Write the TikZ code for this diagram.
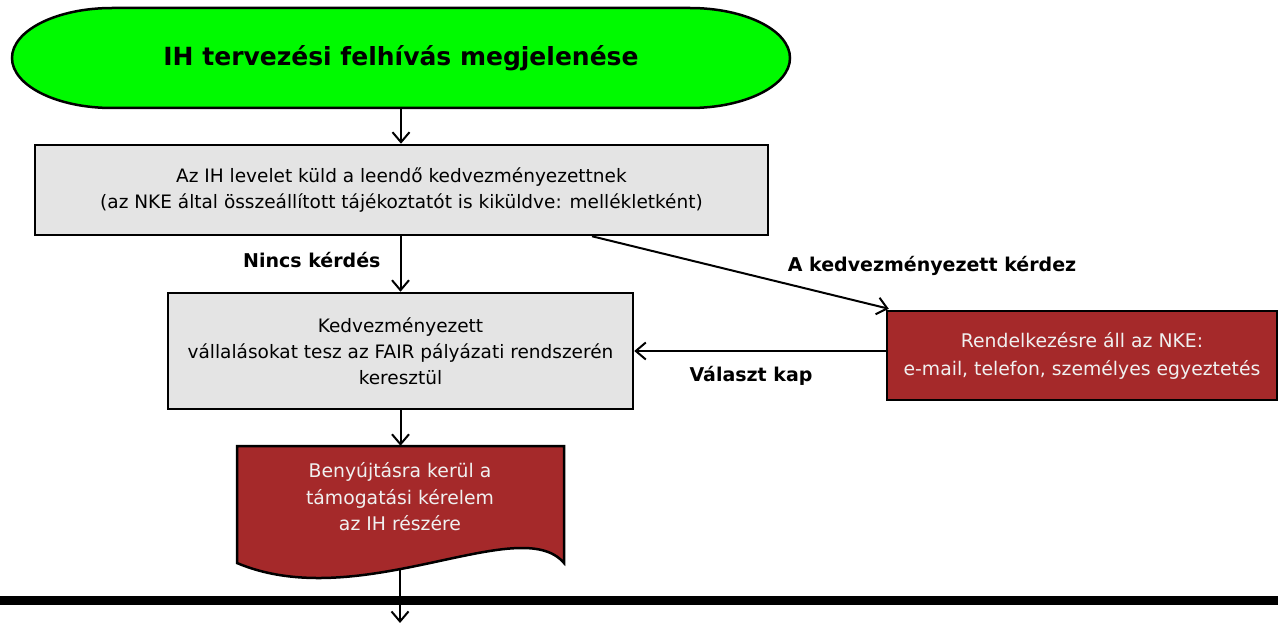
\documentclass[tikz,border=0pt]{standalone}
\usepackage{fontspec}
\setmainfont{DejaVu Sans}
\usetikzlibrary{arrows.meta}
\definecolor{termgreen}{RGB}{0,250,0}
\definecolor{boxgray}{RGB}{228,228,228}
\definecolor{darkred}{RGB}{165,41,42}
\tikzset{
  box/.style={draw=black, line width=2.5pt, fill=boxgray, align=center, inner sep=0pt,
    font=\fontsize{18.5}{26}\selectfont},
  redbox/.style={draw=black, line width=2.5pt, fill=darkred, text=white!94!black, align=center, inner sep=0pt,
    font=\fontsize{18.8}{28}\selectfont},
  arr/.style={-{Straight Barb[length=10pt,width=17pt,line width=2pt]}, line width=2pt},
  lbl/.style={font=\bfseries\fontsize{19}{22}\selectfont, inner sep=0pt}
}
\begin{document}
\begin{tikzpicture}[x=1pt,y=-1pt]
\useasboundingbox (0,0) rectangle (1278,623);
% terminator
\draw[line width=2.5pt, fill=termgreen] (112,8) -- (690,8)
  .. controls (745.2,8) and (790,30.4) .. (790,58)
  .. controls (790,85.6) and (745.2,108) .. (690,108) -- (112,108)
  .. controls (56.8,108) and (12,85.6) .. (12,58)
  .. controls (12,30.4) and (56.8,8) .. (112,8) -- cycle;
\node[font=\bfseries\fontsize{25}{30}\selectfont, minimum width=778pt, minimum height=100pt, inner sep=0pt] (start) at (401,58) {IH tervezési felhívás megjelenése};
% boxes
\node[box, minimum width=733pt, minimum height=90pt] (b1) at (401.5,190)
  {Az IH levelet küld a leendő kedvezményezettnek\\(az NKE által összeállított tájékoztatót is kiküldve: mellékletként)};
\node[box, minimum width=465pt, minimum height=116pt] (b2) at (400.5,351)
  {Kedvezményezett\\vállalásokat tesz az FAIR pályázati rendszerén\\keresztül};
\node[redbox, minimum width=390pt, minimum height=89pt] (nke) at (1082,355.5)
  {Rendelkezésre áll az NKE:\\e-mail, telefon, személyes egyeztetés};
% document shape
\coordinate (out) at (400,623);
\node[minimum width=327pt, minimum height=117pt, inner sep=0pt] (doc) at (400.5,504.5) {};
% thick bar
\coordinate (barL) at (0,600);
\coordinate (barR) at (1278,600);
\draw[arr] (doc.south -| out) -- (out);
\draw[line width=9pt] (barL) -- (barR);
\draw[line width=2.5pt, fill=darkred] (237,446) -- (564,446) -- (564,563)
  .. controls (520,511) and (360,615) .. (237,563) -- cycle;
\node[text=white!94!black, align=center, font=\fontsize{18.8}{26.5}\selectfont] (doctext) at (400,497)
  {Benyújtásra kerül a\\támogatási kérelem\\az IH részére};
% connectors
\draw[arr] (start.south) -- (start.south |- b1.north);
\draw[arr] (b2.north |- b1.south) -- (b2.north)
  node[lbl, pos=0.42, left=19pt] {Nincs kérdés};
\draw[arr] ([xshift=190.5pt]b1.south) -- ([xshift=3pt,yshift=1pt]nke.north west);
\node[lbl] (lq) at (932,266) {A kedvezményezett kérdez};
\draw[arr] (nke.west |- b2.east) -- (b2.east);
\node[lbl] (la) at (751,376) {Választ kap};
\draw[arr] (b2.south) -- (b2.south |- doc.north);
\end{tikzpicture}
\end{document}
